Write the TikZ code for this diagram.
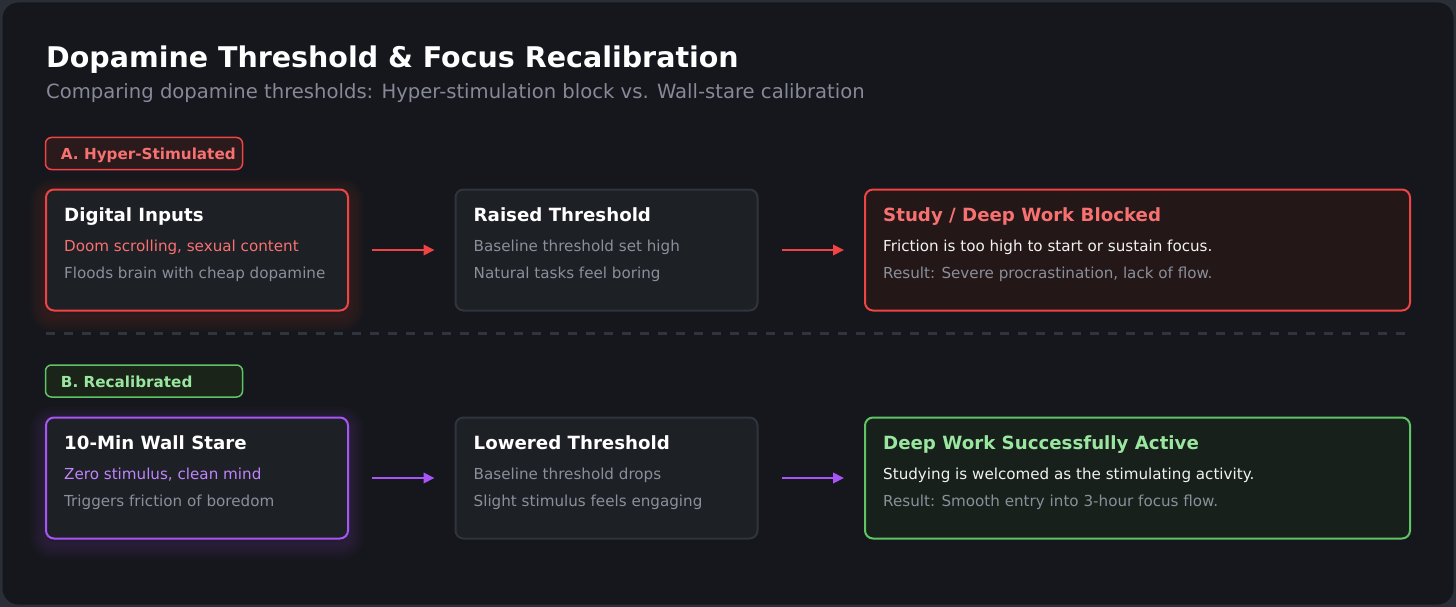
\documentclass[tikz,border=0pt]{standalone}
\usepackage{fontspec}
\setmainfont{DejaVu Sans}
\usepackage{tikz}
\usetikzlibrary{positioning,calc,arrows.meta,backgrounds}
\definecolor{framegray}{HTML}{2A2E37}
\definecolor{pagebg}{HTML}{16171C}
\definecolor{cardbg}{HTML}{1D2025}
\definecolor{cardline}{HTML}{30343E}
\definecolor{subgray}{HTML}{868997}
\definecolor{txtgray}{HTML}{8B8F9A}
\definecolor{redline}{HTML}{EF4444}
\definecolor{redtext}{HTML}{F87171}
\definecolor{redbg}{HTML}{231718}
\definecolor{tagredbg}{HTML}{2A1A1C}
\definecolor{greenline}{HTML}{5EC465}
\definecolor{greentext}{HTML}{9AE6A0}
\definecolor{greenbg}{HTML}{17201A}
\definecolor{taggreenbg}{HTML}{1A2419}
\definecolor{purpline}{HTML}{A855F7}
\definecolor{purptext}{HTML}{C084FC}
\definecolor{offwhite}{HTML}{F2F2F2}
\tikzstyle{card} = [rounded corners=8pt, line width=2pt, minimum width=302pt, minimum height=121pt, inner sep=0pt]
\tikzstyle{tag} = [rounded corners=6pt, line width=1.5pt, minimum width=197pt, minimum height=32pt, inner sep=0pt]
\tikzstyle{hd} = [anchor=base west, inner sep=0pt, text=white, font=\bfseries\fontsize{18.2}{22}\selectfont]
\tikzstyle{ln} = [anchor=base west, inner sep=0pt, text=txtgray, font=\fontsize{15.15}{18}\selectfont]
\tikzstyle{tagtxt} = [anchor=base west, inner sep=0pt, font=\bfseries\fontsize{15.2}{18}\selectfont]
\tikzstyle{flow} = [line width=2pt, -{Triangle[length=11pt,width=10.5pt]}, shorten <=23pt, shorten >=20pt]
\tikzstyle{glow} = [line width=\w pt, opacity=0.022, rounded corners=8pt]

\begin{document}
\begin{tikzpicture}[x=1pt,y=-1pt]
        \useasboundingbox (0,0) rectangle (1456,607);
        \begin{scope}[on background layer]
          \fill[framegray] (0,0) rectangle (1456,607);
          \fill[pagebg, rounded corners=16pt] (2.5,2.5) rectangle (1453.5,604.5);
        \end{scope}
        % heading
        \node[anchor=base west, inner sep=0pt, text=white, font=\bfseries\fontsize{28.5}{32}\selectfont] (title) at (46,68) {Dopamine Threshold \& Focus Recalibration};
        \node[anchor=base west, inner sep=0pt, text=subgray, font=\fontsize{19.6}{24}\selectfont] (subtitle) at (46,99) {Comparing dopamine thresholds: Hyper-stimulation block vs. Wall-stare calibration};
        % A: hyper-stimulated
        \node[tag, draw=redline, fill=tagredbg] (tagA) at (144,153.5) {};
        \node[tagtxt, text=redtext] (tagAT) at ($(tagA.west)+(16,6.5)$) {A. Hyper-Stimulated};
        \node[card, draw=redline, fill=cardbg] (dig) at (197,250) {};
        \node[card, draw=cardline, fill=cardbg] (rais) at (606.5,250) {};
        \node[card, draw=redline, fill=redbg, minimum width=545pt] (blk) at (1137.5,250) {};
        \node[hd] (digT) at ($(dig.north west)+(19,33)$) {Digital Inputs};
        \node[ln, text=redtext] (digA) at ($(dig.north west)+(19,63)$) {Doom scrolling, sexual content};
        \node[ln] (digB) at ($(dig.north west)+(19,90)$) {Floods brain with cheap dopamine};
        \node[hd] (raisT) at ($(rais.north west)+(19,33)$) {Raised Threshold};
        \node[ln] (raisA) at ($(rais.north west)+(19,63)$) {Baseline threshold set high};
        \node[ln] (raisB) at ($(rais.north west)+(19,90)$) {Natural tasks feel boring};
        \node[hd, text=redtext] (blkT) at ($(blk.north west)+(19,33)$) {Study / Deep Work Blocked};
        \node[ln, text=offwhite] (blkA) at ($(blk.north west)+(19,63)$) {Friction is too high to start or sustain focus.};
        \node[ln] (blkB) at ($(blk.north west)+(19,90)$) {Result: Severe procrastination, lack of flow.};
        \draw[flow, redline] (dig.east) -- (rais.west);
        \draw[flow, redline] (rais.east) -- (blk.west);
        % divider
        \draw[cardline, line width=3pt, dash pattern=on 9pt off 9pt] (46,333.5) -- (1410,333.5);
        % B: recalibrated
        \node[tag, draw=greenline, fill=taggreenbg] (tagB) at (144,381) {};
        \node[tagtxt, text=greentext] (tagBT) at ($(tagB.west)+(16,6.5)$) {B. Recalibrated};
        \node[card, draw=purpline, fill=cardbg] (wall) at (197,478) {};
        \node[card, draw=cardline, fill=cardbg] (low) at (606.5,478) {};
        \node[card, draw=greenline, fill=greenbg, minimum width=545pt] (act) at (1137.5,478) {};
        \node[hd] (wallT) at ($(wall.north west)+(19,33)$) {10-Min Wall Stare};
        \node[ln, text=purptext] (wallA) at ($(wall.north west)+(19,63)$) {Zero stimulus, clean mind};
        \node[ln] (wallB) at ($(wall.north west)+(19,90)$) {Triggers friction of boredom};
        \node[hd] (lowT) at ($(low.north west)+(19,33)$) {Lowered Threshold};
        \node[ln] (lowA) at ($(low.north west)+(19,63)$) {Baseline threshold drops};
        \node[ln] (lowB) at ($(low.north west)+(19,90)$) {Slight stimulus feels engaging};
        \node[hd, text=greentext] (actT) at ($(act.north west)+(19,33)$) {Deep Work Successfully Active};
        \node[ln, text=offwhite] (actA) at ($(act.north west)+(19,63)$) {Studying is welcomed as the stimulating activity.};
        \node[ln] (actB) at ($(act.north west)+(19,90)$) {Result: Smooth entry into 3-hour focus flow.};
        \draw[flow, purpline] (wall.east) -- (low.west);
        \draw[flow, purpline] (low.east) -- (act.west);
        % soft glow behind the first cards
        \begin{scope}[on background layer]
          \foreach \w in {30,25,...,5} {
            \draw[glow, redline] ($(dig.north west)+(0,5)$) rectangle ($(dig.south east)+(0,5)$);
            \draw[glow, purpline] ($(wall.north west)+(0,5)$) rectangle ($(wall.south east)+(0,5)$);
          }
        \end{scope}
\end{tikzpicture}
\end{document}
